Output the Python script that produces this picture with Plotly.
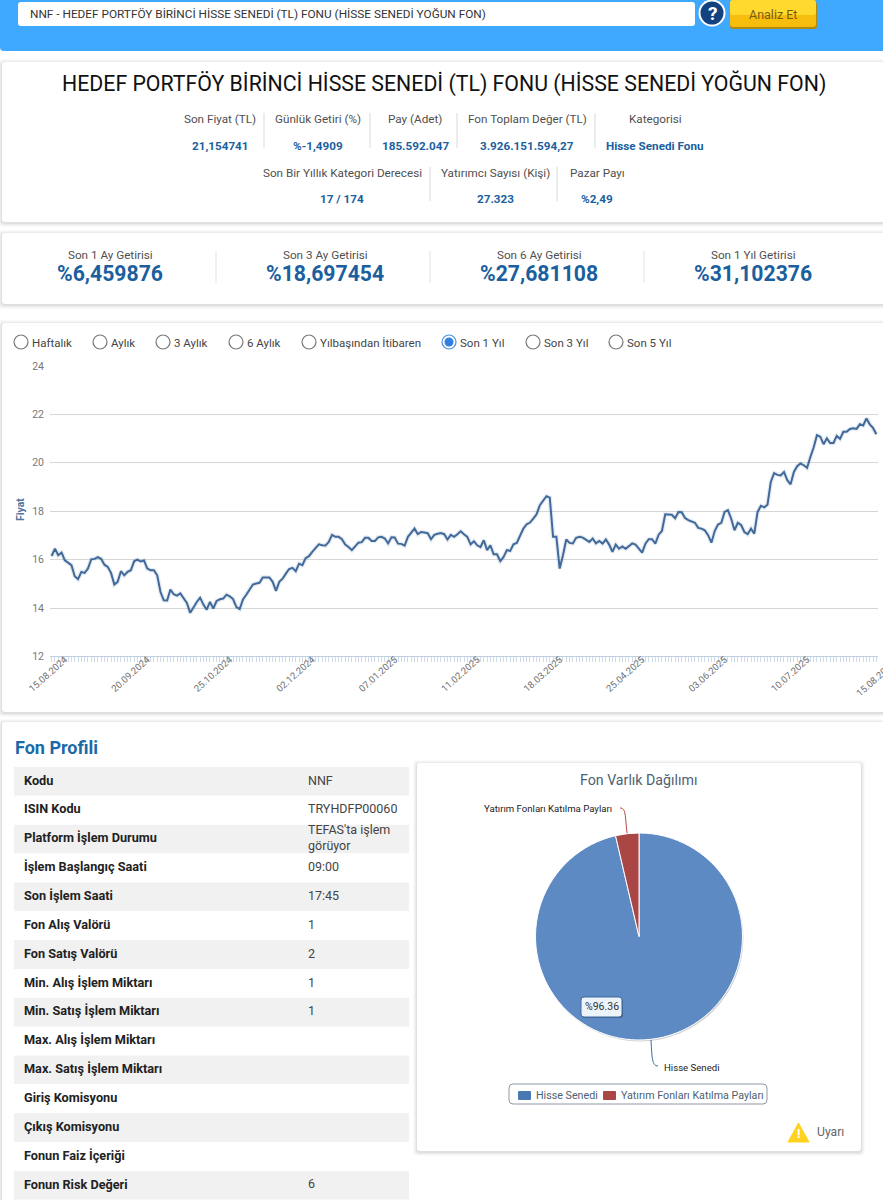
"""
Fon analiz sayfası: fiyat grafiği, varlık dağılımı ve fon profili.
"""
import plotly.graph_objects as go

FONT = "Roboto"
W, H = 883, 1200

COLOR_BLUE = "#1b5f9e"
COLOR_TEXT = "#4f4f4f"
COLOR_LINE = "#41699a"

TITLE = "HEDEF PORTFÖY BİRİNCİ HİSSE SENEDİ (TL) FONU (HİSSE SENEDİ YOĞUN FON)"
SEARCH_TEXT = "NNF - HEDEF PORTFÖY BİRİNCİ HİSSE SENEDİ (TL) FONU (HİSSE SENEDİ YOĞUN FON)"

# fiyat serisi (son 1 yıl, işlem günleri)
PRICES = [
    16.15, 16.45, 16.18, 16.29, 15.97, 15.88, 15.77, 15.31, 15.19, 15.49,
    15.45, 15.63, 16.01, 16.03, 16.10, 16.03, 15.79, 15.70, 15.45, 14.97,
    15.08, 15.52, 15.35, 15.49, 15.56, 15.93, 16.00, 15.92, 15.96, 15.63,
    15.56, 15.56, 15.35, 14.66, 14.32, 14.31, 14.76, 14.57, 14.51, 14.60,
    14.39, 14.21, 13.80, 14.04, 14.25, 14.43, 14.14, 13.93, 14.25, 13.98,
    14.29, 14.36, 14.39, 14.55, 14.48, 14.37, 14.04, 13.96, 14.35, 14.55,
    14.76, 14.97, 15.01, 15.04, 15.26, 15.26, 15.26, 15.08, 14.71, 15.08,
    15.21, 15.42, 15.61, 15.66, 15.52, 15.83, 15.77, 16.06, 16.14, 16.32,
    16.50, 16.63, 16.59, 16.58, 16.73, 17.02, 16.94, 16.94, 16.84, 16.62,
    16.52, 16.39, 16.55, 16.70, 16.72, 16.90, 16.90, 16.77, 16.77, 16.92,
    16.94, 16.87, 16.67, 16.92, 16.91, 16.66, 16.65, 16.58, 16.94, 17.09,
    17.28, 17.05, 17.14, 17.12, 17.09, 16.84, 17.02, 17.07, 17.10, 17.05,
    16.83, 17.02, 16.94, 17.05, 17.17, 17.05, 16.94, 16.63, 16.76, 16.59,
    16.52, 16.80, 16.39, 16.59, 16.22, 16.22, 15.94, 16.11, 16.39, 16.36,
    16.63, 16.69, 17.01, 17.28, 17.46, 17.53, 17.69, 17.87, 18.25, 18.42,
    18.62, 18.56, 16.94, 16.94, 15.63, 16.18, 16.83, 16.69, 16.67, 16.90,
    16.94, 16.91, 16.83, 16.73, 16.87, 16.67, 16.77, 16.66, 16.83, 16.62,
    16.32, 16.62, 16.45, 16.54, 16.45, 16.58, 16.67, 16.62, 16.43, 16.29,
    16.66, 16.84, 16.84, 16.66, 17.03, 17.18, 17.87, 17.86, 17.85, 17.71,
    17.97, 17.96, 17.72, 17.63, 17.57, 17.52, 17.31, 17.28, 17.21, 17.01,
    16.70, 17.18, 17.45, 17.52, 17.97, 18.04, 17.69, 17.21, 17.52, 17.43,
    17.14, 17.05, 17.28, 17.07, 17.97, 18.22, 18.16, 18.27, 19.21, 19.57,
    19.50, 19.48, 19.62, 19.28, 19.11, 19.62, 19.86, 19.97, 19.90, 19.79,
    20.24, 20.63, 21.14, 21.08, 20.77, 21.01, 20.82, 20.82, 21.11, 20.99,
    21.28, 21.28, 21.40, 21.43, 21.40, 21.59, 21.54, 21.83, 21.59, 21.44,
    21.18,
]
DAY_INDEX = list(range(len(PRICES)))
DATE_LABELS = ["15.08.2024", "20.09.2024", "25.10.2024", "02.12.2024", "07.01.2025", "11.02.2025",
               "18.03.2025", "25.04.2025", "03.06.2025", "10.07.2025", "15.08.2025"]
DATE_STEP = 25
PRICE_TICKS = [12, 14, 16, 18, 20, 22, 24]

# varlık dağılımı
ASSET_NAMES = ["Hisse Senedi", "Yatırım Fonları Katılma Payları"]
ASSET_SHARES = [96.36, 3.64]
ASSET_COLORS = ["#5d8ac2", "#aa4643"]
LEGEND_COLORS = ["#4a78b0", "#aa4643"]

# üst bilgiler
INFO_ROW1 = [("Son Fiyat (TL)", "21,154741", 220), ("Günlük Getiri (%)", "%-1,4909", 318),
             ("Pay (Adet)", "185.592.047", 415), ("Fon Toplam Değer (TL)", "3.926.151.594,27", 527),
             ("Kategorisi", "Hisse Senedi Fonu", 655)]
INFO_ROW2 = [("Son Bir Yıllık Kategori Derecesi", "17 / 174", 342), ("Yatırımcı Sayısı (Kişi)", "27.323", 495),
             ("Pazar Payı", "%2,49", 597)]
RETURNS = [("Son 1 Ay Getirisi", "%6,459876", 110), ("Son 3 Ay Getirisi", "%18,697454", 325),
           ("Son 6 Ay Getirisi", "%27,681108", 539), ("Son 1 Yıl Getirisi", "%31,102376", 753)]
PERIODS = [("Haftalık", 21), ("Aylık", 100), ("3 Aylık", 163), ("6 Aylık", 236),
           ("Yılbaşından İtibaren", 309), ("Son 1 Yıl", 449), ("Son 3 Yıl", 533), ("Son 5 Yıl", 616)]

# fon profili tablosu
PROFILE_LABELS = ["Kodu", "ISIN Kodu", "Platform İşlem Durumu", "İşlem Başlangıç Saati", "Son İşlem Saati",
                  "Fon Alış Valörü", "Fon Satış Valörü", "Min. Alış İşlem Miktarı", "Min. Satış İşlem Miktarı",
                  "Max. Alış İşlem Miktarı", "Max. Satış İşlem Miktarı", "Giriş Komisyonu", "Çıkış Komisyonu",
                  "Fonun Faiz İçeriği", "Fonun Risk Değeri"]
PROFILE_VALUES = ["NNF", "TRYHDFP00060", "TEFAS'ta işlem<br>görüyor", "09:00", "17:45", "1", "2", "1", "1",
                  "", "", "", "", "", "6"]


def X(px):
    return px / W


def Y(py):
    return 1 - py / H


def rounded(x0, y0, x1, y1, r):
    return (f"M {X(x0 + r)} {Y(y0)} L {X(x1 - r)} {Y(y0)} Q {X(x1)} {Y(y0)} {X(x1)} {Y(y0 + r)} "
            f"L {X(x1)} {Y(y1 - r)} Q {X(x1)} {Y(y1)} {X(x1 - r)} {Y(y1)} "
            f"L {X(x0 + r)} {Y(y1)} Q {X(x0)} {Y(y1)} {X(x0)} {Y(y1 - r)} "
            f"L {X(x0)} {Y(y0 + r)} Q {X(x0)} {Y(y0)} {X(x0 + r)} {Y(y0)} Z")


shapes = []
annotations = []


def box(x0, y0, x1, y1, fill, r=3, line=None, width=1):
    shapes.append(dict(type="path", path=rounded(x0, y0, x1, y1, r), xref="paper", yref="paper", layer="below",
                       fillcolor=fill, line=dict(color=line or "rgba(0,0,0,0)", width=width if line else 0)))


def card(x0, y0, x1, y1):
    # css gölgesi yerine üst üste yarı saydam kutular
    for grow, alpha in ((4, 0.02), (3, 0.025), (2, 0.035), (1, 0.05)):
        box(x0 - grow, y0 - grow + 1, x1 + grow, y1 + grow + 1, f"rgba(0,0,0,{alpha})", r=4)
    box(x0, y0, x1, y1, "#ffffff", r=3)


def vline(x, y0, y1, color="#d9d9d9"):
    shapes.append(dict(type="line", xref="paper", yref="paper", layer="below", x0=X(x), x1=X(x), y0=Y(y0), y1=Y(y1),
                       line=dict(color=color, width=1)))


def circle(cx, cy, r, fill, line=None, width=1):
    shapes.append(dict(type="circle", xref="paper", yref="paper", layer="below", x0=X(cx - r), x1=X(cx + r),
                       y0=Y(cy - r), y1=Y(cy + r), fillcolor=fill,
                       line=dict(color=line or "rgba(0,0,0,0)", width=width if line else 0)))


def text(x, y, s, size=12, color=COLOR_TEXT, anchor="center", bold=False, angle=0):
    annotations.append(dict(x=X(x), y=Y(y), xref="paper", yref="paper", text=f"<b>{s}</b>" if bold else s,
                            showarrow=False, xanchor=anchor, yanchor="middle", textangle=angle, align="left",
                            font=dict(family=FONT, size=size, color=color)))


# üst arama bandı
box(0, -6, W + 6, 51, "#3fa9ff", r=4)
box(18, 2, 695, 26, "#ffffff", r=3)
text(28, 14, SEARCH_TEXT, size=11.8, color="#333333", anchor="left")
circle(712, 13, 13.5, "#ffffff")
circle(712, 13, 11.5, "#12427f")
text(712, 13, "?", size=19, color="#ffffff", bold=True)
box(730, 2, 817, 29, "#b08a10", r=3)
box(730, 0, 816, 27, "#f6bd0c", r=3)
box(730, 0, 816, 15, "#ffd92e", r=3)
text(773, 14, "Analiz Et", size=12.5, color="#7a5b12")

# bilgi kartı
card(2, 62, W + 8, 222)
text(444, 83, TITLE, size=21.3, color="#111111")
for label, value, cx in INFO_ROW1:
    text(cx, 119, label, size=11.7)
    text(cx, 146, value, size=11.7, color=COLOR_BLUE, bold=True)
for x in (264, 370, 457, 595):
    vline(x, 113, 148)
for label, value, cx in INFO_ROW2:
    text(cx, 173, label, size=11.7)
    text(cx, 199, value, size=11.7, color=COLOR_BLUE, bold=True)
for x in (430, 557):
    vline(x, 167, 201)

# getiri kartı
card(2, 233, W + 8, 304)
for label, value, cx in RETURNS:
    text(cx, 255, label, size=11.7)
    text(cx, 274, value, size=21.2, color=COLOR_BLUE, bold=True)
for x in (216, 430, 644):
    vline(x, 251, 283, color="#e2e2e2")

# grafik kartı
card(2, 323, W + 8, 712)
for label, cx in PERIODS:
    selected = label == "Son 1 Yıl"
    circle(cx, 342, 7, "#ffffff", "#4a90d9" if selected else "#777777", 1.2)
    if selected:
        circle(cx, 342, 4.5, "#2f80e0")
    text(cx + 9, 343, label, size=11.5, color="#444444", anchor="left")
text(20, 510, "Fiyat", size=10.5, color="#4d759e", bold=True, angle=-90)

# son tarih etiketi eksen aralığının dışında kalıyor, sayfa kenarında kesiliyor
annotations.append(dict(x=X(900), y=Y(656), xref="paper", yref="paper", text=DATE_LABELS[-1], showarrow=False,
                        xanchor="right", yanchor="top", textangle=-42, font=dict(family=FONT, size=9.5, color="#6e6e6e")))

# fon profili
card(2, 722, W + 8, 1215)
text(13, 747, "Fon Profili", size=18, color="#1a69a8", anchor="left", bold=True)

# pasta kartı
card(417, 763, 861, 1151)
text(638, 780, "Fon Varlık Dağılımı", size=14.2, color="#4d5f73")
circle(640, 938, 103.5, "rgba(0,0,0,0.18)")
text(614, 808, ASSET_NAMES[1], size=9.6, color="#222222", anchor="right")
text(662, 1067, ASSET_NAMES[0], size=9.6, color="#222222", anchor="left")
shapes.append(dict(type="path", xref="paper", yref="paper",
                   path=f"M {X(620)} {Y(808)} C {X(626)} {Y(808)} {X(625)} {Y(815)} {X(627)} {Y(833)}",
                   line=dict(color=ASSET_COLORS[1], width=1)))
shapes.append(dict(type="path", xref="paper", yref="paper",
                   path=f"M {X(651)} {Y(1040)} C {X(652)} {Y(1058)} {X(652)} {Y(1066)} {X(658)} {Y(1066)}",
                   line=dict(color="#3d6a9e", width=1)))
shapes.append(dict(type="path", xref="paper", yref="paper", path=rounded(582, 999, 623, 1018, 3),
                   fillcolor="rgba(0,0,0,0.25)", line=dict(width=0)))
shapes.append(dict(type="path", xref="paper", yref="paper", path=rounded(581, 997, 622, 1017, 3),
                   fillcolor="#edf3fb", line=dict(color="#3e6a9c", width=1)))
text(601.5, 1007, "%96.36", size=10.5, color="#333333")

# lejant
box(509, 1084, 767, 1104, "#ffffff", r=4, line="#8f99a6")
box(518, 1091, 531, 1100, LEGEND_COLORS[0], r=1)
text(534, 1095.5, ASSET_NAMES[0], size=10.7, color="#4d5f73", anchor="left")
box(603, 1091, 616, 1100, LEGEND_COLORS[1], r=1)
text(619, 1095.5, ASSET_NAMES[1], size=10.7, color="#4d5f73", anchor="left")

shapes.append(dict(type="path", xref="paper", yref="paper", layer="below",
                   path=f"M {X(798.5)} {Y(1123)} L {X(809)} {Y(1142)} L {X(788)} {Y(1142)} Z",
                   fillcolor="#ffd21f", line=dict(color="#ffd21f", width=1)))
text(798.5, 1133.5, "!", size=13, color="#ffffff", bold=True)
text(815, 1132, "Uyarı", size=12.2, color="#666666", anchor="left")

fig = go.Figure()

# çizgi gölgesi + fiyat çizgisi
fig.add_trace(go.Scatter(x=DAY_INDEX, y=PRICES, mode="lines", showlegend=False, hoverinfo="skip",
                         line=dict(color="rgba(65,105,154,0.13)", width=4.5)))
fig.add_trace(go.Scatter(x=DAY_INDEX, y=PRICES, mode="lines", showlegend=False,
                         line=dict(color=COLOR_LINE, width=2)))

fig.add_trace(go.Pie(labels=ASSET_NAMES, values=ASSET_SHARES, sort=False, direction="clockwise", rotation=0,
                     textinfo="none", showlegend=False,
                     marker=dict(colors=ASSET_COLORS, line=dict(color="#ffffff", width=1)),
                     domain=dict(x=[X(535.5), X(742.5)], y=[Y(1040), Y(833)])))

# tablo: satırlar ayrı bir eksende çubuk + metin olarak
rows = list(range(len(PROFILE_LABELS)))
row_colors = ["#f1f1f1" if i % 2 == 0 else "#ffffff" for i in rows]
fig.add_trace(go.Bar(y=rows, x=[395] * len(rows), orientation="h", width=1, xaxis="x2", yaxis="y2",
                     marker=dict(color=row_colors, line=dict(width=0)), showlegend=False, hoverinfo="skip"))
fig.add_trace(go.Scatter(y=rows, x=[10] * len(rows), xaxis="x2", yaxis="y2", mode="text", showlegend=False,
                         text=[f"<b>{s}</b>" for s in PROFILE_LABELS], textposition="middle right",
                         hoverinfo="skip", textfont=dict(family=FONT, size=12.7, color="#222222")))
fig.add_trace(go.Scatter(y=rows, x=[294] * len(rows), xaxis="x2", yaxis="y2", mode="text", showlegend=False,
                         text=PROFILE_VALUES, textposition="middle right",
                         hoverinfo="skip", textfont=dict(family=FONT, size=12.5, color="#444444")))

fig.update_layout(
    width=W, height=H, autosize=False, margin=dict(l=0, r=0, t=0, b=0, autoexpand=False),
    paper_bgcolor="#ffffff", plot_bgcolor="rgba(0,0,0,0)",
    font=dict(family=FONT), shapes=shapes, annotations=annotations, showlegend=False,
    xaxis=dict(domain=[X(50), X(878)], range=[-0.5, 250.5], showgrid=False, zeroline=False, fixedrange=True,
               # etiketler referansta noktanın yaklaşık 4 gün sağında duruyor
               tickmode="array", tickvals=[i * DATE_STEP + 4 for i in range(len(DATE_LABELS) - 1)],
               ticktext=DATE_LABELS[:-1], tickangle=-42, ticks="", showline=True, linecolor="#c0d0e0", linewidth=1,
               ticklabelstandoff=-7, tickfont=dict(family=FONT, size=9.5, color="#6e6e6e"), anchor="y",
               minor=dict(tickmode="linear", tick0=0, dtick=1, ticks="outside", ticklen=5, tickcolor="#cfdbe8",
                          tickwidth=1, showgrid=False)),
    yaxis=dict(domain=[Y(656.4), Y(366)], range=[12, 24], tickmode="array", tickvals=PRICE_TICKS,
               showgrid=True, gridcolor="#d6d6d6", gridwidth=1, zeroline=False, fixedrange=True, ticks="",
               ticklabelstandoff=5, tickfont=dict(family=FONT, size=10.5, color="#777777"), anchor="x"),
    xaxis2=dict(domain=[X(14), X(409)], range=[0, 395], visible=False, fixedrange=True, anchor="y2"),
    yaxis2=dict(domain=[Y(1199.75), Y(767)], range=[14.5, -0.5], visible=False, fixedrange=True, anchor="x2"),
)

fig.write_html("out.html", config=dict(displayModeBar=False),
               post_script="document.body.style.margin='0';document.body.style.overflow='hidden';")
